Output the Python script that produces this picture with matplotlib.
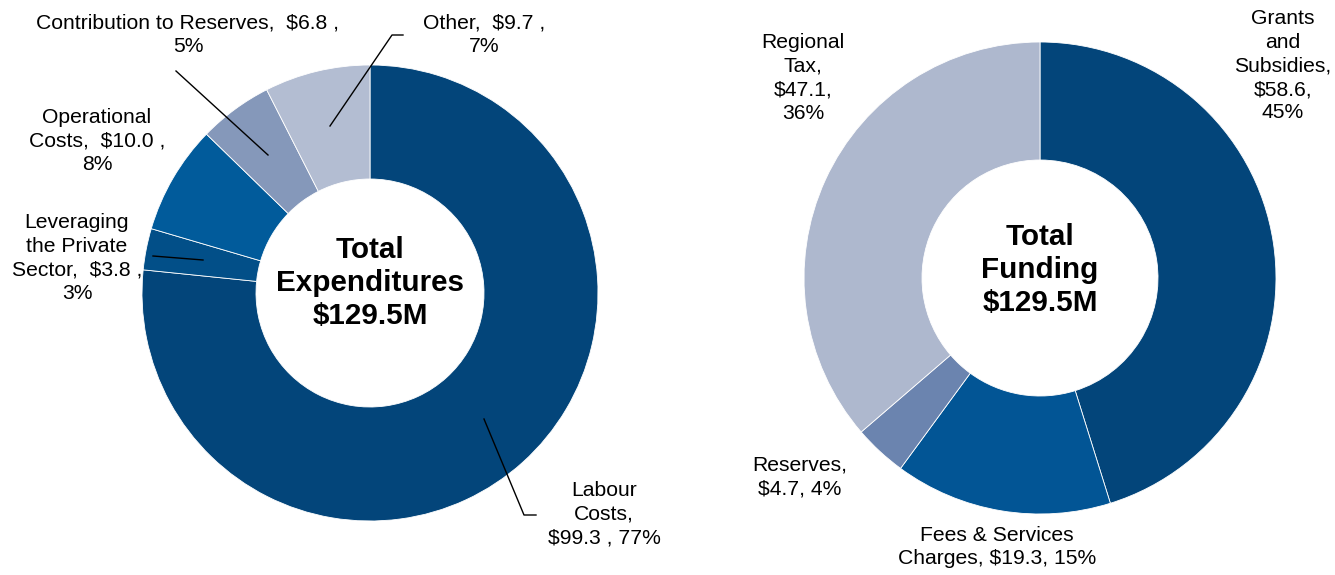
import matplotlib
matplotlib.use("Agg")
from matplotlib import pyplot as plt

plt.rcParams['font.family'] = ['Liberation Sans', 'DejaVu Sans']

# Expenditures (clockwise from 12 o'clock)
exp_labels = ["Labour\nCosts,\n$99.3 , 77%",
              "Leveraging\nthe Private\nSector,  $3.8 ,\n3%",
              "Operational\nCosts,  $10.0 ,\n8%",
              "Contribution to Reserves,  $6.8 ,\n5%",
              "Other,  $9.7 ,\n7%"]
exp_values = [99.3, 3.8, 10.0, 6.8, 9.7]
exp_colors = ["#03457A", "#024F88", "#015B9B", "#8598BA", "#B3BDD2"]

# Funding (clockwise from 12 o'clock)
fund_labels = ["Grants\nand\nSubsidies,\n$58.6,\n45%",
               "Fees & Services\nCharges, $19.3, 15%",
               "Reserves,\n$4.7, 4%",
               "Regional\nTax,\n$47.1,\n36%"]
fund_values = [58.6, 19.3, 4.7, 47.1]
fund_colors = ["#03457A", "#025595", "#6B84AF", "#AEB8CE"]

W, H = 1335, 575
fig = plt.figure(figsize=(W / 100, H / 100), dpi=100)
ax = fig.add_axes([0, 0, 1, 1])


def y(v):
    # image row -> data y
    return H - v


wp = dict(edgecolor='white', linewidth=0.6)
ax.pie(exp_values, colors=exp_colors, startangle=90, counterclock=False,
       center=(370, y(293)), radius=228, wedgeprops=dict(wp, width=228 * 0.5),
       frame=True)
ax.pie(fund_values, colors=fund_colors, startangle=90, counterclock=False,
       center=(1040, y(278)), radius=236, wedgeprops=dict(wp, width=236 * 0.5),
       frame=True)
ax.set_xlim(0, W)
ax.set_ylim(0, H)
ax.set_aspect('equal')
ax.axis('off')

ax.text(370, y(283), "Total\nExpenditures\n$129.5M", ha='center', va='center',
        fontsize=21.3, fontweight='bold', linespacing=1.24)
ax.text(1040, y(270), "Total\nFunding\n$129.5M", ha='center', va='center',
        fontsize=21.3, fontweight='bold', linespacing=1.24)

fs = 15.2
ls = 1.3
lab_pos = [(604, 514), (77, 258), (97, 141), (188, 35), (484, 35)]
for t, (px, py) in zip(exp_labels, lab_pos):
    ax.text(px, y(py), t, ha='center', va='center', fontsize=fs, linespacing=ls)
for t, (px, py) in zip(fund_labels, [(1283, 66), (997, 547), (800, 477), (803, 78)]):
    ax.text(px, y(py), t, ha='center', va='center', fontsize=fs, linespacing=ls)

# leader lines
lines = [[(484, 419), (524, 515), (536, 515)],
         [(153, 256), (203, 260)],
         [(176, 71), (268, 155)],
         [(403, 35), (392, 35), (330, 126)]]
for pts in lines:
    ax.plot([p[0] for p in pts], [y(p[1]) for p in pts], color='black', lw=1)

fig.savefig("out.png", dpi=100)
